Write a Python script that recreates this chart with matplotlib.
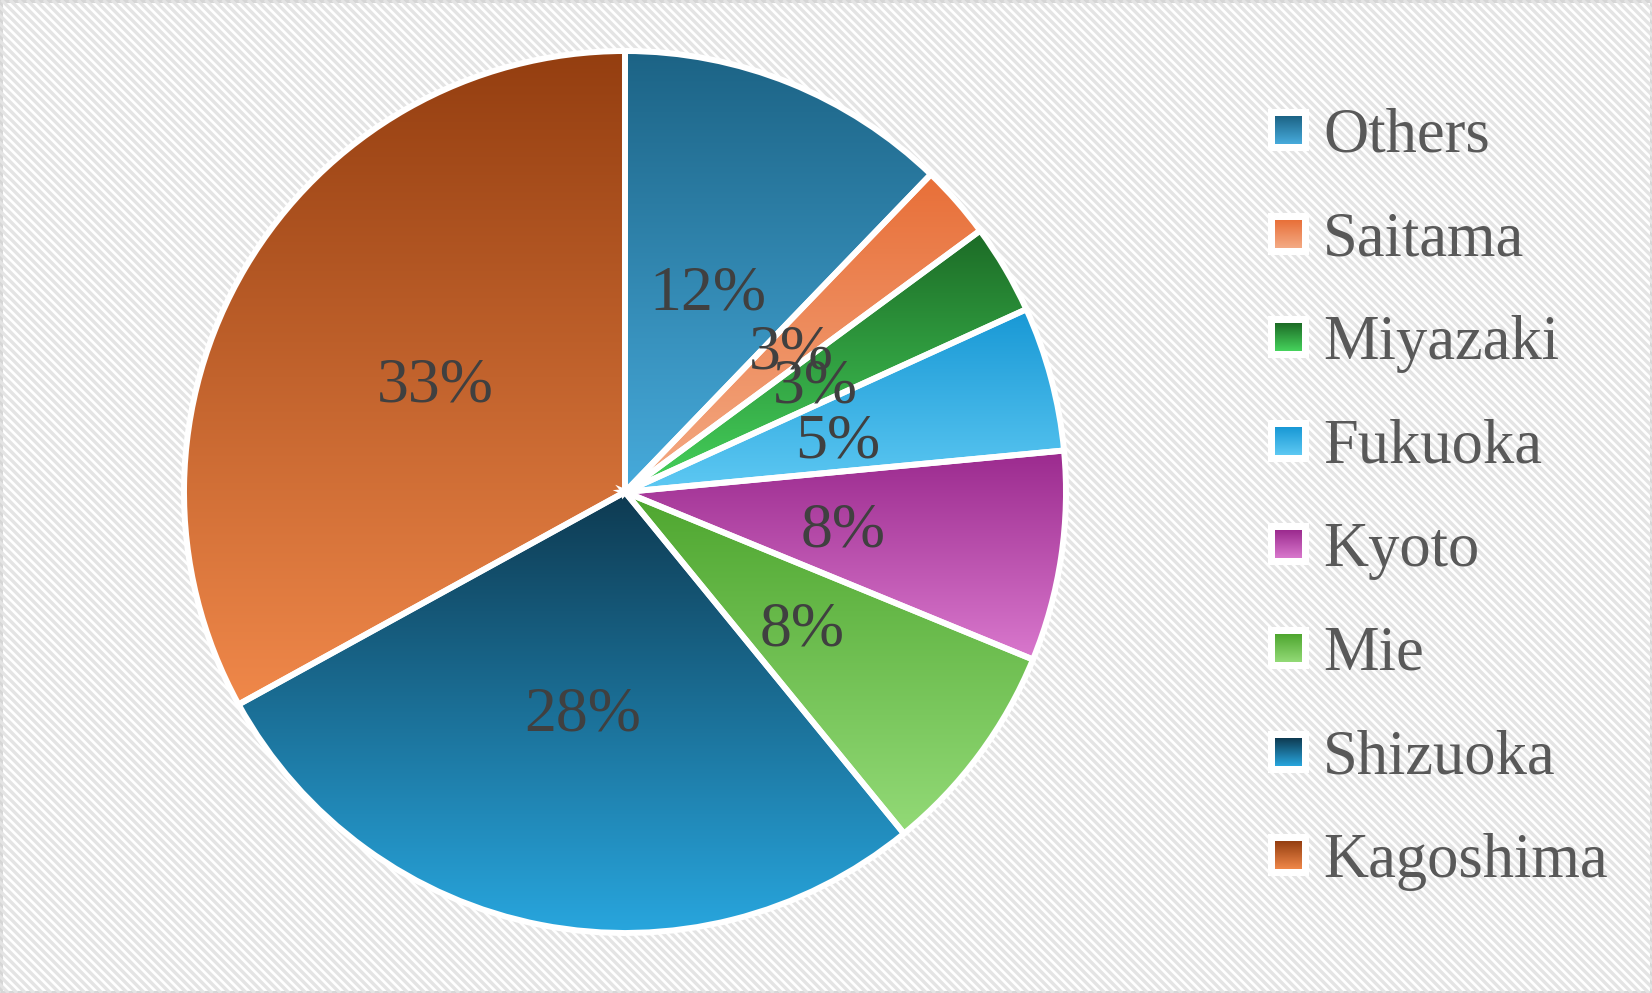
import numpy as np
import matplotlib
matplotlib.use("Agg")
import matplotlib.pyplot as plt
from matplotlib.collections import LineCollection
from matplotlib.colors import to_rgb
from matplotlib.patches import Rectangle

labels = ['Others', 'Saitama', 'Miyazaki', 'Fukuoka', 'Kyoto', 'Mie', 'Shizuoka', 'Kagoshima']
shares = [12.2, 2.7, 3.3, 5.3, 7.7, 7.9, 27.9, 33.0]
top_colors = ['#1c6385', '#e86f38', '#1c6b26', '#1898d5', '#9b2a8e', '#4ea62f', '#0e3a51', '#943e10']
bottom_colors = ['#47abdc', '#f4ab85', '#46d35c', '#5ec9f3', '#d978cd', '#93da77', '#28a6de', '#f0884a']

W, H = 1652, 993
fig = plt.figure(figsize=(W / 100, H / 100), dpi=100)
fig.patch.set_facecolor('white')

# striped background
bg = fig.add_axes([0, 0, 1, 1])
bg.set_xlim(0, W)
bg.set_ylim(0, H)
bg.axis('off')
segs = [[(c, 0), (c - H, H)] for c in np.arange(0, W + H, 8.5)]
bg.add_collection(LineCollection(segs, colors='#e4e4e4', linewidths=2.4))
bg.add_patch(Rectangle((1, 1), W - 2, H - 2, fill=False, edgecolor='#d6d6d6', lw=2.2))


def grad(c_top, c_bot, n=256):
    a, b = np.array(to_rgb(c_top)), np.array(to_rgb(c_bot))
    t = np.linspace(0, 1, n)[:, None]
    return (a + (b - a) * t)[:, None, :]


cx, cy, r = 625, 492, 441
ax = fig.add_axes([(cx - r) / W, (H - cy - r) / H, 2 * r / W, 2 * r / H])
wedges, texts = ax.pie(shares, startangle=90, counterclock=False,
                       labels=[f'{round(s)}%' for s in shares], labeldistance=0.5,
                       wedgeprops=dict(edgecolor='white', linewidth=4.3),
                       textprops=dict(fontsize=46, color='#404040', family='Liberation Serif',
                                      ha='center', va='center_baseline'))
ax.set_aspect('equal')
ax.axis('off')

for w, ct, cb in zip(wedges, top_colors, bottom_colors):
    ext = w.get_path().get_extents()
    im = ax.imshow(grad(ct, cb), extent=(ext.x0, ext.x1, ext.y0, ext.y1),
                   origin='upper', aspect='auto', zorder=1, interpolation='bilinear')
    im.set_clip_path(w)
    w.set_facecolor('none')
    w.set_zorder(2)
    w.set_clip_on(False)
for t in texts:
    t.set_zorder(3)
ax.set_xlim(-1, 1)
ax.set_ylim(-1, 1)

# legend
for i, (lab, ct, cb) in enumerate(zip(labels, top_colors, bottom_colors)):
    yc = H - (130 + i * 103.6)
    bg.add_patch(Rectangle((1268, yc - 21), 41, 42, facecolor='white', edgecolor='none', zorder=3))
    bg.imshow(grad(ct, cb), extent=(1275, 1302, yc - 14, yc + 14), origin='upper',
              aspect='auto', zorder=4, interpolation='bilinear')
    bg.text(1323, yc, lab, fontsize=45, color='#595959', family='Liberation Serif',
            va='center_baseline', ha='left', zorder=5)
bg.set_xlim(0, W)
bg.set_ylim(0, H)

fig.savefig('out.png', dpi=100)
